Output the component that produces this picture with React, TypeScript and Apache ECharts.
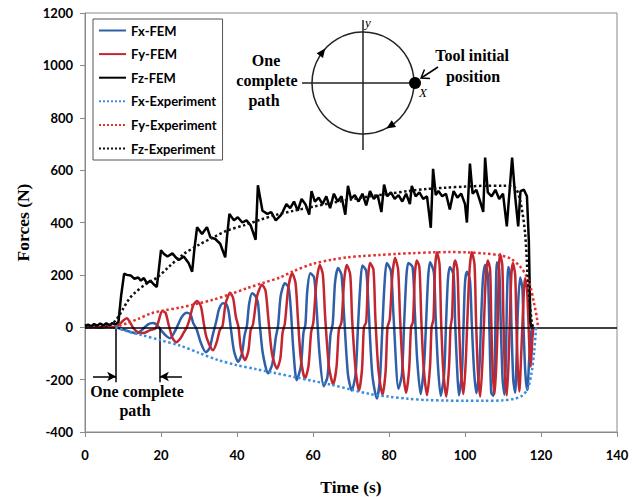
import React, { useEffect, useRef } from "react";
import * as echarts from "echarts";

const seriesNames = ["Fx-FEM", "Fy-FEM", "Fz-FEM", "Fx-Experiment", "Fy-Experiment", "Fz-Experiment"];

// [time (s), force (N)]
const fxFem: number[][] = [
  [0, 0], [2, 2], [4, -2], [6, 1], [8, 0], [9, -4], [10.5, -10], [12, -18], [13.7, -23], [15, -10], [16.5, 10], [17.9, 16], [19, 8],
  [20.2, -15], [21.5, -35], [22.4, -42], [23.5, -20], [24.5, 10], [25.5, 40], [26.8, 55], [27.8, 48], [28.5, 15], [29.3, -5],
  [30.5, -60], [31.8, -95], [32.8, -80], [33.6, -30], [34.5, 20], [35.3, 70], [36.3, 92], [37.2, 88], [37.8, 60], [38.3, 5],
  [39.2, -90], [40.3, -132], [41.3, -100], [42, -30], [42.6, 5], [43.2, 90], [44, 130], [44.8, 120], [45.5, 95], [46, 10],
  [46.8, -100], [48.2, -176], [49.3, -140], [50.2, -40], [50.8, 5], [51.5, 120], [52.6, 168], [53.6, 150], [54.2, 60], [54.8, -80],
  [55.7, -202], [56.8, -150], [57.5, -20], [58, 10], [58.5, 140], [59.3, 206], [60.3, 190], [61, 60], [61.7, -100], [62.8, -225],
  [63.8, -190], [64.6, -30], [65.2, 15], [65.8, 170], [66.6, 226], [67.5, 200], [68.2, 40], [69.2, -180], [70.2, -242], [71.2, -180],
  [71.8, -10], [72.4, 150], [73, 236], [74, 215], [74.6, 80], [75.6, -180], [76.8, -272], [77.6, -200], [78.2, -20], [78.8, 160],
  [79.4, 245], [80.5, 215], [81.2, 40], [82.5, -235], [83.4, -180], [84, 20], [84.6, 200], [85.1, 245], [86.2, 230], [86.8, 60],
  [87.4, -120], [88.3, -255], [89.2, -150], [89.8, 30], [90.3, 190], [90.8, 248], [91.8, 210], [92.3, 30], [92.9, -150], [93.6, -262],
  [94.5, -180], [95, 10], [95.5, 180], [96, 230], [97, 200], [97.4, 20], [97.9, -150], [98.4, -260], [99.2, -170], [99.6, 0],
  [100, 170], [100.5, 212], [101.3, 180], [101.8, 10], [102.4, -170], [103, -252], [103.8, -150], [104.2, 10], [104.7, 180],
  [105.3, 238], [106, 200], [106.4, 10], [106.9, -250], [107.5, -262], [107.9, -100], [108.1, 100], [108.4, 248], [109, 220],
  [109.4, 20], [109.9, -200], [110.4, -258], [110.8, -100], [111, 80], [111.4, 230], [111.9, 200], [112.2, 20], [112.7, -200],
  [113.2, -250], [113.6, -100], [113.9, 60], [114.5, 190], [115.1, 150], [115.4, 0], [115.9, -180], [116.4, -240], [116.9, -120],
  [117.4, -20], [117.8, 0]
];

const fyFem: number[][] = [
  [0, 0], [2, 1], [4, 0], [6, 2], [8, 0], [9, 10], [10, 25], [11, 34], [12, 15], [12.8, -5], [14, -20], [15.5, -22], [17, -12],
  [18.5, -5], [19.3, 20], [20.3, 62], [21.2, 55], [22, 10], [23, -40], [24, -57], [25, -45], [26, -20], [26.8, 0], [27.5, 30],
  [28.5, 85], [29.5, 100], [30.5, 80], [31.2, 20], [32, -40], [33.7, -88], [34.6, -60], [35.5, -10], [36.2, 5], [37, 90],
  [38.2, 132], [39, 110], [39.7, 40], [40.4, 0], [41, -80], [42.1, -126], [43, -90], [43.6, -10], [44.2, 10], [45.3, 120],
  [46.6, 162], [47.5, 140], [48.2, 40], [49.2, -100], [50.5, -158], [51.4, -120], [52, -20], [52.6, 15], [53.5, 150], [54.5, 206],
  [55.4, 170], [56, 40], [56.8, -120], [57.9, -196], [58.8, -150], [59.5, -20], [60.1, 20], [60.9, 170], [61.8, 238], [62.6, 200],
  [63.2, 40], [64.2, -150], [65.3, -218], [66.2, -150], [66.8, -10], [67.5, 20], [68.2, 180], [68.9, 238], [69.8, 200], [70.3, 30],
  [71.2, -160], [72.1, -242], [72.9, -160], [73.4, 0], [74, 20], [74.5, 190], [75, 245], [75.9, 220], [76.4, 40], [77.2, -160],
  [78.3, -258], [79.1, -170], [79.6, 0], [80.2, 30], [80.9, 200], [81.6, 264], [82.4, 220], [82.9, 40], [83.6, -150], [84.5, -250],
  [85.3, -160], [85.8, 0], [86.3, 20], [86.8, 200], [87.3, 255], [88, 230], [88.5, 30], [89.1, -150], [90, -260], [90.8, -150],
  [91.2, 0], [91.7, 30], [92.1, 220], [92.6, 286], [93.3, 240], [93.7, 30], [94.3, -170], [95.1, -265], [95.8, -150], [96.2, 0],
  [96.6, 40], [97, 220], [97.4, 255], [98, 220], [98.4, 30], [98.9, -160], [99.6, -255], [100.2, -130], [100.6, 20], [101.2, 220],
  [101.8, 286], [102.5, 240], [102.9, 30], [103.4, -170], [104, -265], [104.6, -130], [105, 20], [105.5, 200], [106, 255],
  [106.6, 220], [106.9, 30], [107.3, -170], [107.8, -255], [108.3, -120], [108.6, 20], [108.9, 220], [109.2, 280], [109.8, 240],
  [110.1, 40], [110.5, -170], [111, -260], [111.5, -120], [111.8, 30], [112.2, 200], [112.6, 245], [113.2, 200], [113.5, 30],
  [113.9, -160], [114.3, -245], [114.8, -100], [115.2, 40], [115.8, 187], [116.3, 150], [116.7, 20], [117, -100], [117.3, -150],
  [117.7, -50], [118, 0]
];

const fzFem: number[][] = [
  [0, 6], [0.8, 10], [1.6, 4], [2.4, 12], [3.2, 6], [4, 14], [4.8, 7], [5.6, 15], [6.4, 8], [7.2, 16], [8, 10], [8.8, 20],
  [9.5, 120], [10.3, 205], [11, 200], [12, 198], [13, 185], [14, 190], [14.7, 178], [15.5, 188], [16.3, 168], [17.2, 178],
  [18, 165], [18.9, 154], [19.5, 230], [20, 294], [20.8, 280], [21.7, 270], [23, 282], [24, 265], [24.7, 257], [26, 270],
  [27.3, 244], [28.2, 212], [28.8, 300], [29.5, 382], [30.8, 356], [31.5, 370], [32.1, 382], [33, 343], [34.3, 337], [35.6, 318],
  [36.9, 267], [37.4, 350], [38, 433], [39.2, 408], [40.2, 420], [41.4, 400], [42.5, 408], [43.6, 389], [44.9, 334], [45.5, 542],
  [46.7, 445], [48, 433], [49, 440], [50.2, 408], [51.5, 427], [52, 440], [53, 470], [54, 455], [55, 480], [56, 445], [57, 490],
  [58, 470], [59, 430], [59.6, 520], [60.5, 480], [61.5, 495], [62.5, 470], [63.5, 500], [64.5, 455], [65.5, 510], [66.5, 480],
  [67.5, 500], [68.5, 430], [69.2, 540], [70, 490], [71, 505], [72, 480], [73, 510], [74, 465], [75, 520], [76, 490], [77, 505],
  [78, 440], [78.7, 545], [79.5, 500], [80.5, 515], [81.5, 490], [82.5, 505], [83.5, 480], [84.5, 510], [85.5, 470], [86, 540],
  [87, 500], [88, 515], [89, 490], [90, 500], [91, 380], [91.6, 605], [92.3, 505], [93, 520], [94, 500], [95, 510], [96, 450],
  [97, 520], [98, 495], [99, 510], [100, 470], [100.5, 400], [101.3, 625], [102, 510], [103, 525], [104, 480], [104.8, 440],
  [105.3, 648], [106, 515], [107, 500], [108, 525], [109, 490], [110, 510], [111, 385], [112.4, 648], [113.2, 500], [114, 385],
  [114.6, 520], [115.5, 525], [116.3, 500], [116.8, 330], [117.2, 20], [117.5, 0]
];

const fxExp: number[][] = [
  [8, 0], [11, -15], [15, -30], [20, -50], [25, -70], [30, -98], [35, -125], [40, -145], [45, -160], [50, -175], [55, -190],
  [60, -205], [65, -220], [70, -238], [75, -255], [80, -265], [85, -273], [90, -278], [95, -280], [100, -281], [105, -281],
  [110, -279], [113, -273], [115, -262], [116.5, -235], [117.5, -175], [118.2, -95], [118.7, 0]
];

const fyExp: number[][] = [
  [9, 5], [11, 15], [14, 32], [17.4, 53], [21, 65], [25, 75], [29, 88], [33.7, 105], [38, 125], [42.6, 149], [47, 170],
  [51.3, 190], [55, 215], [60, 242], [65, 258], [69, 267], [73, 272], [77.6, 276], [82, 280], [86.3, 283], [91.6, 286],
  [96, 287], [100.5, 286], [105, 282], [109, 275], [112, 262], [114.5, 232], [116, 200], [117, 168], [118.2, 90], [118.9, 38],
  [119.2, 0]
];

const fzExp: number[][] = [
  [0, 0], [5, 0], [6, 5], [7, 12], [8, 25], [9, 45], [10, 70], [11, 95], [12, 115], [13, 130], [16, 165], [19, 190], [22, 230],
  [26, 280], [30, 315], [34, 345], [37.5, 370], [42, 390], [46, 410], [50, 428], [55, 445], [60, 460], [65, 475], [70, 488],
  [75, 500], [80, 510], [85, 520], [90, 528], [95, 533], [100, 537], [105, 540], [110, 540], [113, 535], [114.5, 485],
  [115.8, 360], [116.6, 170], [117.6, 15], [118, 0]
];

// annotation: one complete tool path on the time axis
const pathStart = 8.2;
const pathEnd = 19.7;

const colors = ["#2f5fa8", "#c3262e", "#000000", "#3a8ee0", "#e52f2f", "#111111"];

export default function App() {
  const ref = useRef<HTMLDivElement>(null);
  useEffect(() => {
    const chart = echarts.init(ref.current!, null, { renderer: "svg" });
    const serif = "'Liberation Serif', 'Times New Roman', serif";
    const sans = "Lato, 'Open Sans', sans-serif";
    const datas = [fxFem, fyFem, fzFem, fxExp, fyExp, fzExp];
    const series: any[] = datas.map((d, i) => ({
      name: seriesNames[i],
      type: "line",
      data: d,
      symbol: "none",
      showSymbol: false,
      smooth: i < 2 ? 0.25 : i >= 3 ? 0.3 : false,
      z: 2 + i,
      lineStyle: {
        color: colors[i],
        width: 2.5,
        type: i >= 3 ? "dotted" : "solid",
        cap: "butt",
      },
      itemStyle: { color: colors[i] },
      emphasis: { disabled: true },
    }));
    series[5].markLine = {
      silent: true,
      animation: false,
      symbol: "none",
      label: { show: false },
      lineStyle: { color: "#000", width: 1.5, type: "solid" },
      data: [
        { yAxis: 0 },
        [{ coord: [pathStart, 0], symbol: "none" }, { coord: [pathStart, -210], symbol: "none" }],
        [{ coord: [pathEnd, 0], symbol: "none" }, { coord: [pathEnd, -210], symbol: "none" }],
        [{ coord: [2.1, -188], symbol: "none" }, { coord: [pathStart, -188], symbol: "arrow", symbolSize: [7, 9] }],
        [{ coord: [25.5, -188], symbol: "none" }, { coord: [pathEnd, -188], symbol: "arrow", symbolSize: [7, 9] }],
      ],
    };

    const cx = 363, cy = 83, r = 51;
    const arrowHead = (px: number, py: number, dx: number, dy: number) => {
      const nx = -dy, ny = dx;
      return [
        [px + 5 * dx, py + 5 * dy],
        [px - 4 * dx + 4 * nx, py - 4 * dy + 4 * ny],
        [px - 4 * dx - 4 * nx, py - 4 * dy - 4 * ny],
      ];
    };
    const a1 = { c: -0.8, s: -0.6 };
    const a2 = { c: 0.54, s: 0.84 };
    const textStyle = (t: string, x: number, y: number, size = 16, style = "bold") => ({
      type: "text",
      x,
      y,
      style: {
        text: t,
        fill: "#000",
        font: `${style} ${size}px ${serif}`,
        textAlign: "center",
        textVerticalAlign: "middle",
      },
      z: 20,
    });

    chart.setOption({
      animation: false,
      backgroundColor: "#fff",
      grid: {
        left: 85,
        right: 26,
        top: 13,
        bottom: 65,
        show: true,
        borderColor: "#8a8a8a",
        borderWidth: 1,
        outerBoundsMode: "none",
      },
      legend: {
        orient: "vertical",
        left: 93,
        top: 19,
        padding: [5, 6, 5, 5],
        itemGap: 10.6,
        itemWidth: 27,
        itemHeight: 14,
        borderColor: "#555",
        borderWidth: 1,
        backgroundColor: "#fff",
        itemStyle: { color: "rgba(0,0,0,0)", borderColor: "rgba(0,0,0,0)", borderWidth: 0 },
        textStyle: { fontFamily: sans, fontWeight: "bold", fontSize: 13, color: "#000" },
        data: seriesNames,
        selectedMode: false,
      },
      xAxis: {
        type: "value",
        min: 0,
        max: 140,
        interval: 20,
        name: "Time (s)",
        nameLocation: "middle",
        nameGap: 46,
        nameTextStyle: { fontFamily: serif, fontWeight: "bold", fontSize: 17.5, color: "#000" },
        axisLine: { show: true, onZero: false, lineStyle: { color: "#8a8a8a", width: 1 } },
        axisTick: { show: true, length: 5, lineStyle: { color: "#8a8a8a" } },
        splitLine: { show: false },
        axisLabel: {
          fontFamily: sans, fontWeight: "bold", fontSize: 13, color: "#000", margin: 16,
          formatter: (v: number) => String(v),
        },
      },
      yAxis: {
        type: "value",
        min: -400,
        max: 1200,
        interval: 200,
        name: "Forces (N)",
        nameLocation: "middle",
        nameGap: 51,
        nameTextStyle: { fontFamily: serif, fontWeight: "bold", fontSize: 17.5, color: "#000" },
        axisLine: { show: true, onZero: false, lineStyle: { color: "#8a8a8a", width: 1 } },
        axisTick: { show: true, length: 5, lineStyle: { color: "#8a8a8a" } },
        splitLine: { show: false },
        axisLabel: {
          fontFamily: sans, fontWeight: "bold", fontSize: 13, color: "#000", margin: 12,
          formatter: (v: number) => String(v),
        },
      },
      series,
      graphic: [
        { type: "circle", shape: { cx, cy, r }, style: { fill: "none", stroke: "#222", lineWidth: 1.5 }, z: 20 },
        { type: "line", shape: { x1: cx, y1: 20, x2: cx, y2: 150 }, style: { stroke: "#222", lineWidth: 1.5 }, z: 20 },
        { type: "line", shape: { x1: 302, y1: cy, x2: cx + r, y2: cy }, style: { stroke: "#222", lineWidth: 1.5 }, z: 20 },
        { type: "circle", shape: { cx: cx + r + 1, cy, r: 6 }, style: { fill: "#000" }, z: 21 },
        {
          type: "polygon",
          shape: { points: arrowHead(cx + r * a1.c, cy + r * a1.s, -a1.s, a1.c) },
          style: { fill: "#000" },
          z: 21,
        },
        {
          type: "polygon",
          shape: { points: arrowHead(cx + r * a2.c, cy + r * a2.s, -a2.s, a2.c) },
          style: { fill: "#000" },
          z: 21,
        },
        { type: "line", shape: { x1: 438, y1: 67, x2: 422, y2: 77.5 }, style: { stroke: "#000", lineWidth: 1.5 }, z: 20 },
        {
          type: "polyline",
          shape: { points: [[424.5, 69.5], [421, 78], [430, 78.5]] },
          style: { stroke: "#000", lineWidth: 1.5, fill: "none" },
          z: 20,
        },
        textStyle("y", 368, 22, 13, "italic"),
        textStyle("X", 423, 92, 13, "italic"),
        textStyle("Tool initial", 472, 55),
        textStyle("position", 473, 76),
        textStyle("One", 266, 60),
        textStyle("complete", 267, 80),
        textStyle("path", 264, 100),
        textStyle("One complete", 137, 391),
        textStyle("path", 135, 410),
      ],
    });
    return () => chart.dispose();
  }, []);
  return (
    <div
      ref={ref}
      style={{ position: "fixed", left: 0, top: 0, width: 643, height: 497, background: "#fff" }}
    />
  );
}
